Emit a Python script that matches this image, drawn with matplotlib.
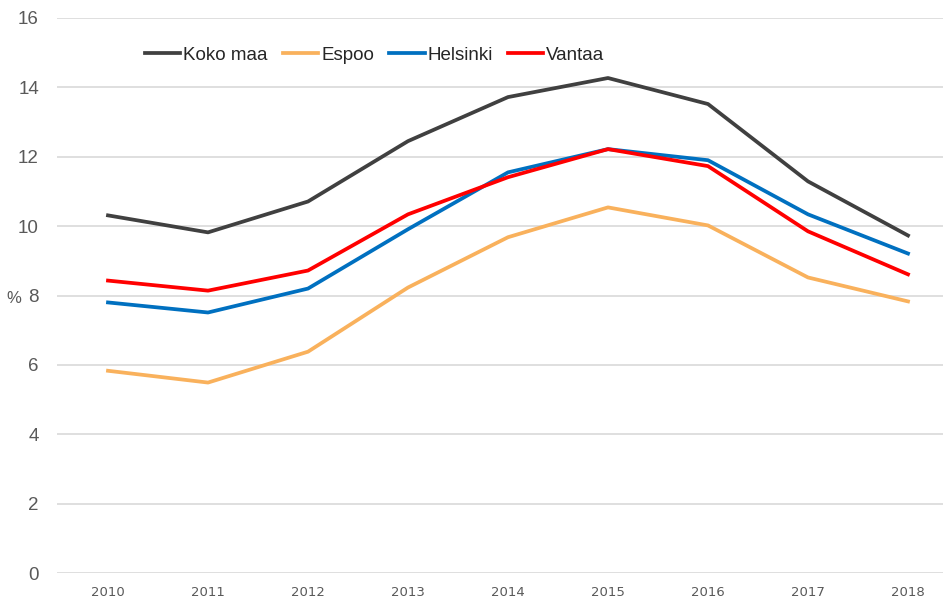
import matplotlib
matplotlib.use('Agg')
import matplotlib.pyplot as plt

# Share of population (%) by area, 2010-2018
years = ['2010', '2011', '2012', '2013', '2014', '2015', '2016', '2017', '2018']
koko_maa = [10.31, 9.82, 10.71, 12.45, 13.72, 14.27, 13.52, 11.29, 9.73]
espoo = [5.83, 5.49, 6.38, 8.23, 9.68, 10.54, 10.02, 8.52, 7.83]
helsinki = [7.80, 7.51, 8.20, 9.91, 11.55, 12.22, 11.90, 10.34, 9.21]
vantaa = [8.43, 8.14, 8.72, 10.34, 11.41, 12.22, 11.73, 9.85, 8.61]

txt = '#595959'
plt.rcParams['font.family'] = ['Liberation Sans', 'DejaVu Sans']

fig = plt.figure(figsize=(9.44, 6.03), dpi=100)
ax = fig.add_axes([57/944, 30/603, 886/944, 555/603])

x = range(len(years))
lw = 2.7
ax.plot(x, koko_maa, color='#404040', linewidth=lw, label='Koko maa')
ax.plot(x, espoo, color='#F9B15C', linewidth=lw, label='Espoo')
ax.plot(x, helsinki, color='#0070C0', linewidth=lw, label='Helsinki')
ax.plot(x, vantaa, color='#FF0000', linewidth=lw, label='Vantaa')

ax.set_ylim(0, 16)
ax.set_xlim(-0.51, 8.35)
ax.set_yticks(range(0, 17, 2))
ax.set_xticks(list(x))
ax.set_xticklabels(years)
ax.grid(axis='y', color='#d9d9d9', linewidth=1.2)
ax.set_axisbelow(True)
for s in ax.spines.values():
    s.set_visible(False)
ax.tick_params(axis='both', length=0, colors=txt)
ax.tick_params(axis='y', labelsize=13.5, pad=13)
ax.tick_params(axis='x', pad=9)
for lab in ax.get_xticklabels():
    lab.set_family(['DejaVu Sans'])
    lab.set_fontsize(9.5)
ax.set_ylabel('%', rotation=0, color=txt, fontsize=12, va='center', ha='center')
ax.yaxis.set_label_coords(-0.0485, 0.495)

leg = ax.legend(loc='upper left', bbox_to_anchor=(0.08, 0.979), ncol=4, frameon=False,
                fontsize=13.5, handlelength=1.9, handletextpad=0.15, columnspacing=0.8)
for t in leg.get_texts():
    t.set_color('#262626')

fig.savefig('out.png', dpi=100)
